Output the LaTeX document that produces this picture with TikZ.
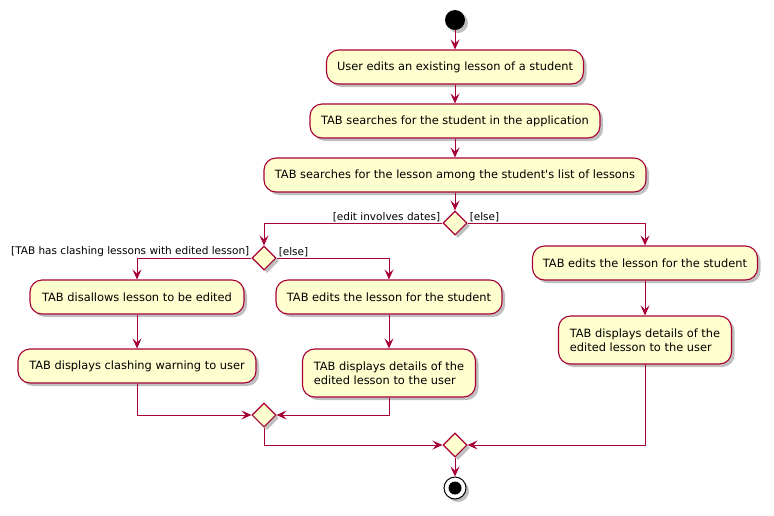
\documentclass[tikz,border=0pt]{standalone}
\usepackage{fontspec}
\setmainfont{DejaVu Sans}
\usetikzlibrary{shapes.geometric,arrows.meta,shadows}
\definecolor{pbord}{HTML}{A80036}
\definecolor{pfill}{HTML}{FEFECE}
\begin{document}
\begin{tikzpicture}[x=1pt,y=-1pt,
  shad/.style={drop shadow={shadow xshift=3pt,shadow yshift=-3pt,fill=black,opacity=0.25}},
  act/.style={draw=pbord,fill=pfill,line width=1.1pt,rounded corners=12pt,
    minimum height=34pt,inner sep=0pt,font=\fontsize{11.4}{14}\selectfont,shad},
  act2/.style={act,minimum height=48pt,align=left},
  dec/.style={draw=pbord,fill=pfill,line width=1.1pt,diamond,inner sep=0pt,
    minimum width=24pt,minimum height=24pt,shad},
  arr/.style={draw=pbord,line width=1pt,-{Stealth[length=10pt,width=9pt,inset=4pt]}},
  lbl/.style={font=\fontsize{10.5}{12}\selectfont,inner sep=1pt}
]
\useasboundingbox (0,0) rectangle (774,515);

\node[circle,fill=black,minimum size=20pt,inner sep=0pt,shad] (start) at (455,20) {};
\node[act,minimum width=257pt] (a1) at (455,67) {User edits an existing lesson of a student};
\node[act,minimum width=290pt] (a2) at (455,121) {TAB searches for the student in the application};
\node[act,minimum width=382pt] (a3) at (455,175) {TAB searches for the lesson among the student\textquotesingle s list of lessons};
\node[dec] (d1) at (455,223) {};
\node[dec] (d2) at (264,258) {};
\node[act,minimum width=214pt] (b1) at (137,297) {TAB disallows lesson to be edited};
\node[act,minimum width=238pt] (b2) at (137,366) {TAB displays clashing warning to user};
\node[act,minimum width=226pt] (c1) at (389,297) {TAB edits the lesson for the student};
\node[act2,minimum width=173pt] (c2) at (389,373) {TAB displays details of the\\edited lesson to the user};
\node[act,minimum width=225pt] (r1) at (645,263) {TAB edits the lesson for the student};
\node[act2,minimum width=173pt] (r2) at (645,340) {TAB displays details of the\\edited lesson to the user};
\node[dec] (m1) at (264,415) {};
\node[dec] (m2) at (455,445) {};
\node[circle,draw=black,line width=1pt,fill=white,minimum size=22pt,inner sep=0pt,shad] (stop) at (455,488) {};
\node[circle,fill=black,minimum size=13pt,inner sep=0pt] (stopin) at (stop.center) {};

\node[lbl,anchor=south east,xshift=-1pt] (l1) at (d1.west) {[edit involves dates]};
\node[lbl,anchor=south west,xshift=1pt] (l2) at (d1.east) {[else]};
\node[lbl,anchor=south east,xshift=-1pt] (l3) at (d2.west) {[TAB has clashing lessons with edited lesson]};
\node[lbl,anchor=south west,xshift=1pt] (l4) at (d2.east) {[else]};

\draw[arr] (start) -- (a1);
\draw[arr] (a1) -- (a2);
\draw[arr] (a2) -- (a3);
\draw[arr] (a3) -- (d1);
\draw[arr] (d1.west) -| (d2.north);
\draw[arr] (d1.east) -| (r1.north);
\draw[arr] (d2.west) -| (b1.north);
\draw[arr] (d2.east) -| (c1.north);
\draw[arr] (b1) -- (b2);
\draw[arr] (c1) -- (c2);
\draw[arr] (r1) -- (r2);
\draw[arr] (b2.south) |- (m1.west);
\draw[arr] (c2.south) |- (m1.east);
\draw[arr] (m1.south) |- (m2.west);
\draw[arr] (r2.south) |- (m2.east);
\draw[arr] (m2) -- (stop);
\end{tikzpicture}
\end{document}
